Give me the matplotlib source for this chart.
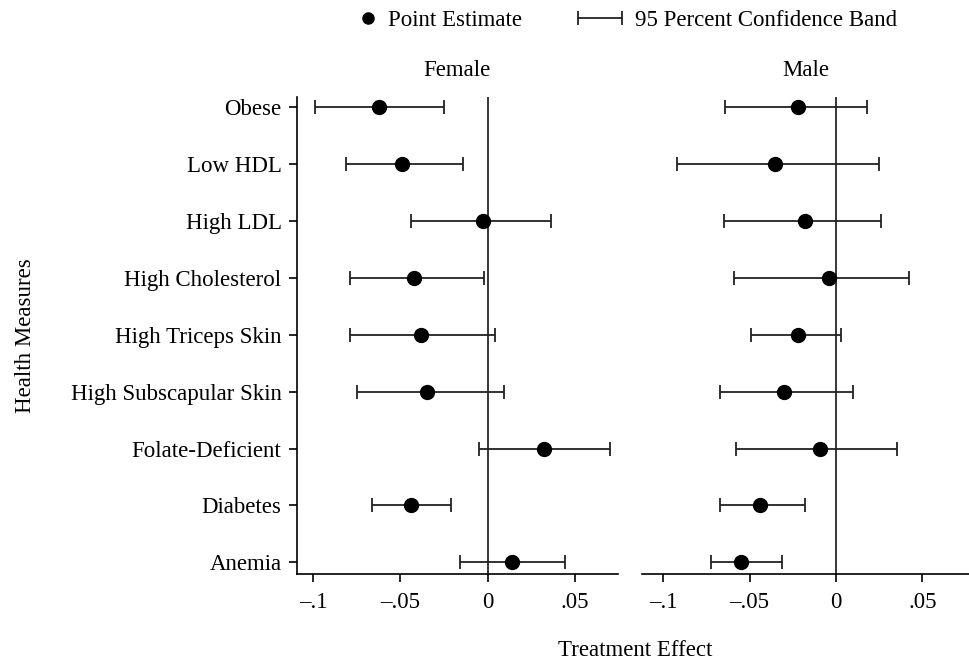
import matplotlib
matplotlib.use("Agg")
import matplotlib.pyplot as plt
from matplotlib.lines import Line2D
from matplotlib.container import ErrorbarContainer
from matplotlib.legend_handler import HandlerErrorbar

plt.rcParams['font.family'] = ['Liberation Serif', 'DejaVu Serif']
FS = 16.5

measures = ["Obese", "Low HDL", "High LDL", "High Cholesterol", "High Triceps Skin",
            "High Subscapular Skin", "Folate-Deficient", "Diabetes", "Anemia"]

# female: point estimate and 95% band
female_est = [-0.062, -0.049, -0.003, -0.042, -0.038, -0.035, 0.032, -0.044, 0.014]
female_lo = [-0.099, -0.081, -0.044, -0.079, -0.079, -0.075, -0.005, -0.066, -0.016]
female_hi = [-0.025, -0.014, 0.036, -0.002, 0.004, 0.009, 0.070, -0.021, 0.044]

# male
male_est = [-0.022, -0.035, -0.018, -0.004, -0.022, -0.030, -0.009, -0.044, -0.055]
male_lo = [-0.064, -0.092, -0.065, -0.059, -0.049, -0.067, -0.058, -0.067, -0.072]
male_hi = [0.018, 0.025, 0.026, 0.042, 0.003, 0.010, 0.035, -0.018, -0.031]

xticks = [-0.1, -0.05, 0, 0.05]
xticklabels = ["\u2013.1", "\u2013.05", "0", ".05"]

fig = plt.figure(figsize=(9.7, 6.6), dpi=100)
axF = fig.add_axes([0.306, 0.130, 0.331, 0.723])
axM = fig.add_axes([0.662, 0.130, 0.338, 0.723])

ypos = list(range(len(measures)))


def draw(ax, est, lo, hi, title, xlim):
    xerr = [[e - l for e, l in zip(est, lo)], [h - e for e, h in zip(est, hi)]]
    ax.axvline(0, color="black", lw=1.1, zorder=1)
    eb = ax.errorbar(est, ypos, xerr=xerr, fmt="none", ecolor="#222222",
                     elinewidth=1.3, capsize=5, capthick=1.3, zorder=2)
    ax.plot(est, ypos, "o", color="black", ms=10, zorder=3, ls="none")
    ax.set_xlim(*xlim)
    ax.set_ylim(8.21, -0.18)
    ax.set_xticks(xticks)
    ax.set_xticklabels(xticklabels)
    ax.set_title(title, fontsize=FS, pad=15)
    for s in ["top", "right"]:
        ax.spines[s].set_visible(False)
    ax.spines["bottom"].set_linewidth(1.2)
    ax.spines["left"].set_linewidth(1.2)
    ax.tick_params(axis="x", labelsize=FS, length=6, width=1.2, pad=7)
    ax.tick_params(axis="y", labelsize=FS, length=6, width=1.2, pad=5)
    return eb


eb = draw(axF, female_est, female_lo, female_hi, "Female", (-0.1093, 0.0744))
axF.set_yticks(ypos)
axF.set_yticklabels(measures)
axF.set_ylabel("Health Measures", fontsize=FS)
axF.yaxis.set_label_coords(-0.812, 0.5)

draw(axM, male_est, male_lo, male_hi, "Male", (-0.1121, 0.0775))
axM.set_yticks([])
axM.spines["left"].set_visible(False)

fig.text(0.655, 0.006, "Treatment Effect", ha="center", fontsize=FS)

# two legend entries placed separately, as in the original
fig.legend([Line2D([], [], marker="o", color="black", ls="none", ms=8)],
           ["Point Estimate"], loc="upper left", bbox_to_anchor=(357 / 970, 0.985),
           frameon=False, fontsize=FS, handlelength=1.0, handletextpad=0.35,
           borderpad=0, borderaxespad=0)
fig.legend([eb], ["95 Percent Confidence Band"],
           handler_map={ErrorbarContainer: HandlerErrorbar(xerr_size=0.96, yerr_size=0.25)},
           loc="upper left", bbox_to_anchor=(575 / 970, 0.985), frameon=False,
           fontsize=FS, handlelength=2.2, handletextpad=0.4,
           borderpad=0, borderaxespad=0)

fig.savefig("out.png", dpi=100)
